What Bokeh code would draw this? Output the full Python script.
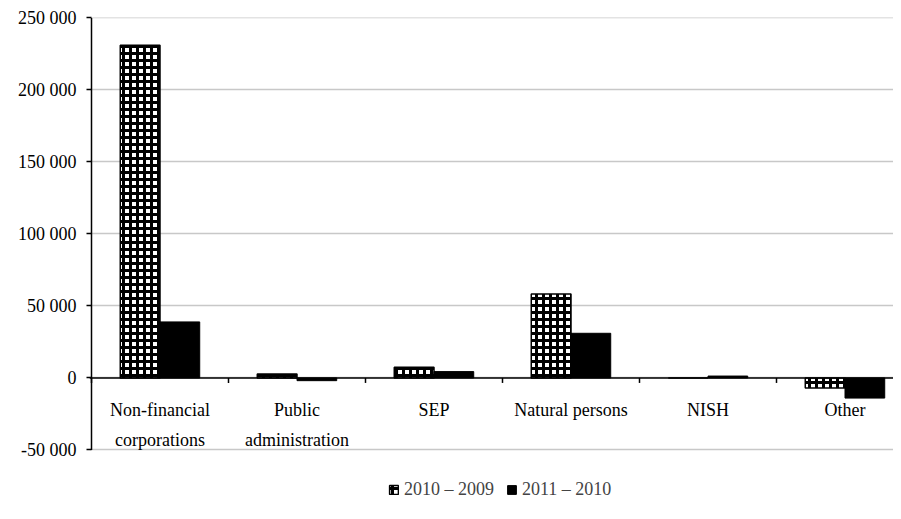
from bokeh.plotting import figure
from bokeh.models import ColumnDataSource, Range1d, FixedTicker, Legend, LegendItem, Span
from bokeh.core.properties import value
from bokeh.embed import file_html
from bokeh.resources import INLINE

categories = ["Non-financial\ncorporations", "Public\nadministration", "SEP", "Natural persons", "NISH", "Other"]
s2010_2009 = [231000, 2800, 7400, 58300, 0, -7000]
s2011_2010 = [38900, -1900, 4400, 31000, 1300, -14000]
series_names = ["2010 \u2013 2009", "2011 \u2013 2010"]
y_ticks = [-50000, 0, 50000, 100000, 150000, 200000, 250000]
y_tick_labels = ["-50 000", "0", "50 000", "100 000", "150 000", "200 000", "250 000"]

FONT = "Liberation Serif"
FS = "18px"
n = len(categories)
centers = [i + 0.5 for i in range(n)]
boundaries = list(range(n + 1))
bw = 0.29

# layout (pixels)
W, H = 893, 511
LEFT, TOP = 89, 17
CAT_PX = 137.0          # pixels per category
PX_PER_UNIT = 72.0 / 50000.0
FRAME_W = W - LEFT
FRAME_H = H - TOP
X0 = -2.0 / CAT_PX
Y_TOP = y_ticks[-1] + 300
Y_BOT = Y_TOP - FRAME_H / PX_PER_UNIT
TICK_LEN = 5 / PX_PER_UNIT

src = ColumnDataSource(dict(
    x1=[c - bw / 2 for c in centers],
    x2=[c + bw / 2 for c in centers],
    a=s2010_2009,
    b=s2011_2010,
    zero=[0] * n,
))

p = figure(output_backend="svg", toolbar_location=None,
           width=W, height=H, x_axis_location=None,
           min_border_left=LEFT, min_border_right=0, min_border_top=TOP, min_border_bottom=0,
           x_range=Range1d(X0, X0 + FRAME_W / CAT_PX), y_range=Range1d(Y_BOT, Y_TOP))
p.outline_line_color = None
p.background_fill_color = "white"

# gridlines
p.xgrid.grid_line_color = None
p.ygrid.ticker = FixedTicker(ticks=y_ticks)
p.ygrid.grid_line_color = "#c8c8c8"
p.ygrid.grid_line_width = 1.5

r1 = p.vbar(x="x1", width=bw, top="a", bottom="zero", source=src,
            fill_color="white", line_color="black", line_width=1.5,
            hatch_pattern="cross", hatch_color="black", hatch_scale=7, hatch_weight=3)
r2 = p.vbar(x="x2", width=bw, top="b", bottom="zero", source=src,
            fill_color="black", line_color="black", line_width=1.0)

# category axis at zero: line + boundary ticks
p.add_layout(Span(location=0, dimension="width", line_color="black", line_width=1.5))
p.segment(x0=boundaries, y0=[0] * len(boundaries), x1=boundaries,
          y1=[-TICK_LEN] * len(boundaries), line_color="black", line_width=1.5)

# value axis line from lowest to highest tick
p.segment(x0=[0], y0=[y_ticks[0]], x1=[0], y1=[y_ticks[-1]], line_color="black", line_width=1.5)

# category labels under the zero line
line1 = [c.split("\n")[0] for c in categories]
line2 = [c.split("\n")[1] if "\n" in c else "" for c in categories]
p.text(x=centers, y=[0] * n, text=line1, text_font=value(FONT), text_font_size=FS,
       text_align="center", text_baseline="middle", y_offset=32, text_color="black")
p.text(x=centers, y=[0] * n, text=line2, text_font=value(FONT), text_font_size=FS,
       text_align="center", text_baseline="middle", y_offset=62, text_color="black")

# y axis (ticks + labels only)
p.yaxis.ticker = FixedTicker(ticks=y_ticks)
p.yaxis.major_label_overrides = {t: l for t, l in zip(y_ticks, y_tick_labels)}
p.yaxis.major_label_text_font = FONT
p.yaxis.major_label_text_font_size = FS
p.yaxis.major_label_text_color = "black"
p.yaxis.axis_line_color = None
p.yaxis.major_tick_line_width = 1.5
p.yaxis.major_tick_line_color = "black"
p.yaxis.major_tick_in = 2
p.yaxis.major_tick_out = 3
p.yaxis.minor_tick_line_color = None
p.yaxis.major_label_standoff = 10

legend = Legend(items=[LegendItem(label=series_names[0], renderers=[r1]),
                       LegendItem(label=series_names[1], renderers=[r2])],
                orientation="horizontal", location=(299, 11),
                label_text_font=FONT, label_text_font_size=FS,
                glyph_width=11, glyph_height=11, label_standoff=5, spacing=12,
                border_line_color=None, background_fill_alpha=0, padding=0, margin=0)
p.add_layout(legend)

html = file_html(p, INLINE)
open("out.html", "w").write(html)
